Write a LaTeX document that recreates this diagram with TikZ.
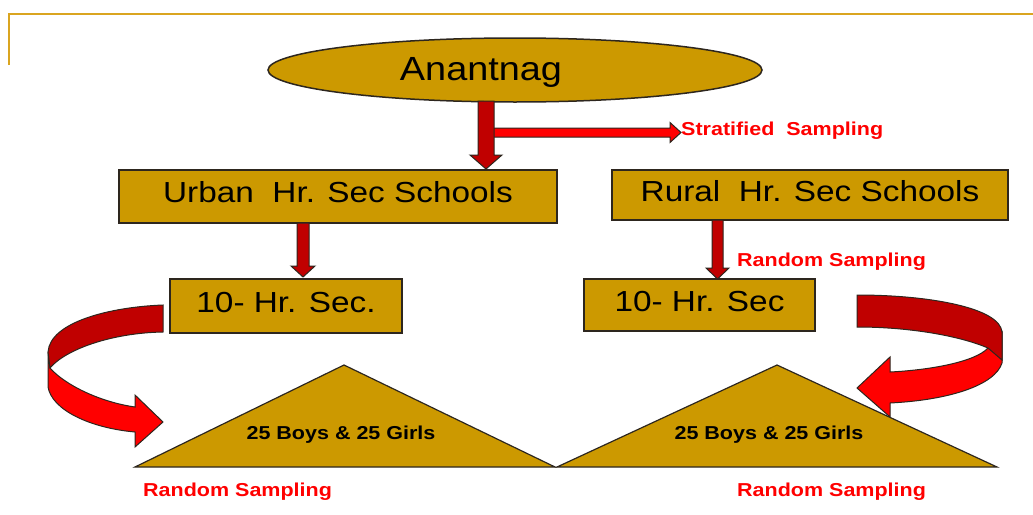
\documentclass[tikz,border=0pt]{standalone}
\usepackage{graphicx}
\usepackage{fontspec}
\setmainfont{Liberation Sans}
\usetikzlibrary{shapes.geometric,calc}
\definecolor{gold}{RGB}{204,153,0}
\definecolor{framegold}{RGB}{218,165,32}
\definecolor{darkred}{RGB}{192,0,0}
\definecolor{brightred}{RGB}{255,0,0}
\definecolor{edgec}{RGB}{45,38,30}
\newcommand{\wtxt}[1]{\scalebox{1.15}[1]{#1}}
\begin{document}
\begin{tikzpicture}[x=1pt,y=-1pt,
  box/.style={draw=edgec,line width=1.5pt,fill=gold,inner sep=0pt,
    text height=20.6pt,text depth=8.6pt,font=\fontsize{29}{34}\selectfont},
  lab/.style={text=brightred,font=\bfseries\fontsize{18.7}{22}\selectfont,inner sep=0pt,anchor=base west},
  tritext/.style={font=\bfseries\fontsize{18.7}{22}\selectfont,inner sep=0pt,anchor=base},
  tri/.style={draw=edgec,line width=1.2pt,fill=gold,line join=miter},
  blk/.style={draw=edgec,line width=1pt,fill=darkred,line join=miter},
  hblk/.style={draw=edgec,line width=1pt,fill=brightred,line join=miter},
  ribdark/.style={draw=edgec,line width=1pt,fill=darkred},
  ribbright/.style={draw=edgec,line width=1pt,fill=brightred,line join=miter}]
\useasboundingbox (0,0) rectangle (1033,514);
% frame
\draw[framegold,line width=1.8pt] (9,65) -- (9,14) -- (1033,14);
% nodes
\node[box,ellipse,minimum width=494pt,minimum height=64pt,text height=24pt,text depth=2.6pt,
  font=\fontsize{33.5}{38}\selectfont] (anant) at (515,70)
  {\makebox[0pt][c]{\kern-68pt\scalebox{1.13}[1]{Anantnag}}};
\node[box,minimum width=438pt,minimum height=53pt] (urban) at (338,196.5) {\wtxt{Urban\ \ Hr. Sec Schools}};
\node[box,minimum width=396pt,minimum height=50pt] (rural) at (810,195) {\wtxt{Rural\ \ Hr. Sec Schools}};
\node[box,minimum width=232pt,minimum height=54pt] (lsec) at (286,306) {\wtxt{10- Hr. Sec.}};
\node[box,minimum width=231pt,minimum height=52pt] (rsec) at (699.5,305) {\wtxt{10- Hr. Sec}};
% connector coordinates
\coordinate (a1) at (486,101);
\coordinate (a1t) at (486,169);
\coordinate (h1) at (490,132.5);
\coordinate (h1t) at (681,132.5);
\coordinate (a2) at (303,223);
\coordinate (a2t) at (303,277);
\coordinate (a3) at (717.5,220);
\coordinate (a3t) at (717.5,279);
% stratified arrow
\draw[hblk] ($(h1)+(0,-4.5)$) -- ($(h1t)+(-11,-4.5)$) -- ($(h1t)+(-11,-10)$) -- (h1t)
  -- ($(h1t)+(-11,10)$) -- ($(h1t)+(-11,4.5)$) -- ($(h1)+(0,4.5)$) -- cycle;
% down arrows
\draw[blk] ($(a1)+(-8,0)$) -- ($(a1t)+(-8,-14)$) -- ($(a1t)+(-16,-14)$) -- (a1t)
  -- ($(a1t)+(16,-14)$) -- ($(a1t)+(8,-14)$) -- ($(a1)+(8,0)$) -- cycle;
\draw[blk] ($(a2)+(-6,0)$) -- ($(a2t)+(-6,-11)$) -- ($(a2t)+(-12,-11)$) -- (a2t)
  -- ($(a2t)+(12,-11)$) -- ($(a2t)+(6,-11)$) -- ($(a2)+(6,0)$) -- cycle;
\draw[blk] ($(a3)+(-5.5,0)$) -- ($(a3t)+(-5.5,-11)$) -- ($(a3t)+(-11.5,-11)$) -- (a3t)
  -- ($(a3t)+(11.5,-11)$) -- ($(a3t)+(5.5,-11)$) -- ($(a3)+(5.5,0)$) -- cycle;
% left curved ribbon arrow
\draw[ribbright] (48,352) -- (48,387) .. controls (52,410) and (90,428) .. (135,432)
  -- (135,447) -- (163,422) -- (135,395) -- (135,407)
  .. controls (100,402) and (65,385) .. (50,368) -- cycle;
\draw[ribdark] (163,305) .. controls (110,307) and (50,322) .. (48,352) -- (50,368)
  .. controls (65,350) and (110,333) .. (163,332) -- cycle;
% right curved ribbon arrow
\draw[ribbright] (1002,332) -- (1002,363) .. controls (995,385) and (950,400) .. (890,403)
  -- (890,417) -- (857,388) -- (890,357) -- (890,372)
  .. controls (930,370) and (975,362) .. (988,348) -- cycle;
\draw[ribdark] (857,295) .. controls (930,295) and (1000,308) .. (1002,332) -- (1002,360)
  -- (988,348) .. controls (960,336) and (910,327) .. (857,327) -- cycle;
% triangles
\draw[tri] (135,467) -- (344,365) -- (555,467) -- cycle;
\draw[tri] (557,467) -- (777,365) -- (997,467) -- cycle;
\node[tritext] (ltext) at (341,439) {\wtxt{25 Boys \& 25 Girls}};
\node[tritext] (rtext) at (769,439) {\wtxt{25 Boys \& 25 Girls}};
% labels
\node[lab] (strat) at (681,135.7) {\wtxt{Stratified\ \ Sampling}};
\node[lab] (rand1) at (737,266.7) {\wtxt{Random Sampling}};
\node[lab] (rand2) at (143,496.7) {\wtxt{Random Sampling}};
\node[lab] (rand3) at (737,496.7) {\wtxt{Random Sampling}};
\end{tikzpicture}
\end{document}
